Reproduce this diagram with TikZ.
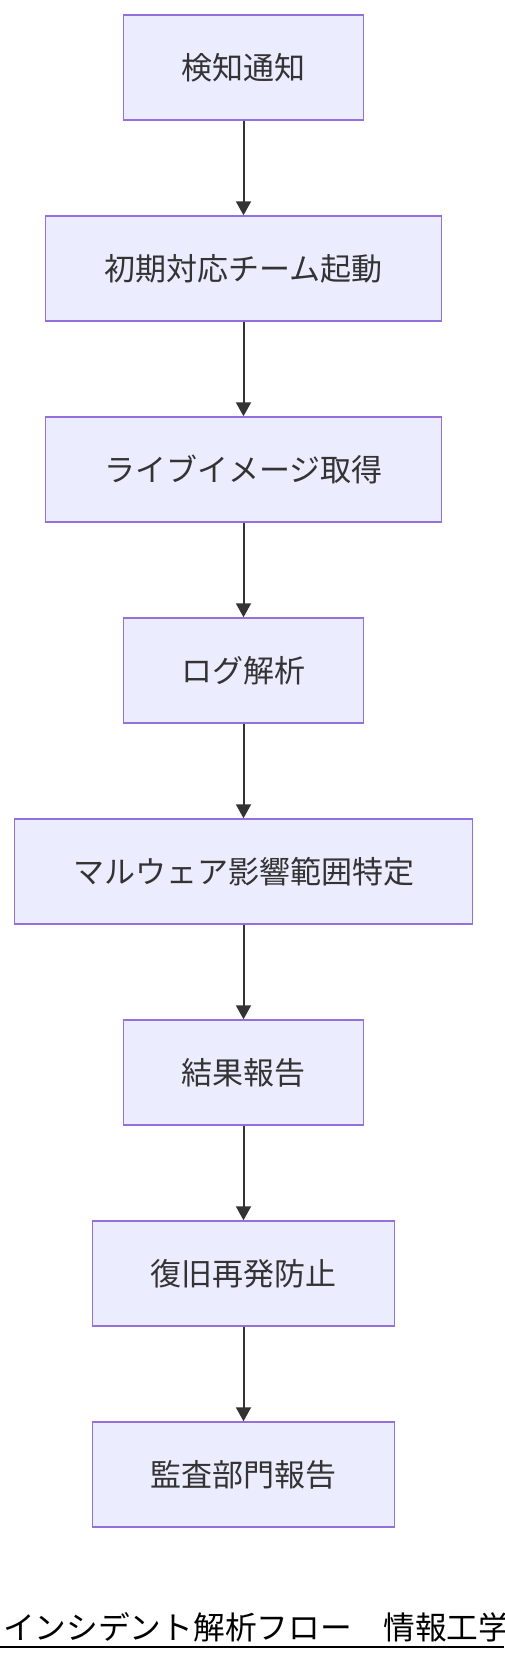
\documentclass[tikz,border=0pt]{standalone}
\usepackage{fontspec}
\setmainfont{Noto Sans CJK JP}
\usepackage{xcolor}
\usetikzlibrary{arrows.meta, positioning}
\definecolor{boxfill}{HTML}{ECECFF}
\definecolor{boxline}{HTML}{9370DB}
\definecolor{edgegray}{HTML}{333333}

\begin{document}
\begin{tikzpicture}[x=1pt, y=1pt, node distance=201pt]
    \tikzstyle{stepbox} = [rectangle, minimum height=105pt, text centered, draw=boxline, line width=1.5pt, fill=boxfill, text=edgegray, font=\fontsize{31pt}{37pt}\selectfont]
    \tikzstyle{arrow} = [line width=2pt, draw=edgegray, -{Triangle[length=14pt,width=15pt]}]
    \useasboundingbox (0,0) rectangle (504,-1660);

    \node (detect) [stepbox, minimum width=240pt] at (243.5,-67.5) {検知通知};
    \node (team) [stepbox, minimum width=396pt, below of=detect] {初期対応チーム起動};
    \node (image) [stepbox, minimum width=396pt, below of=team] {ライブイメージ取得};
    \node (logs) [stepbox, minimum width=240pt, below of=image] {ログ解析};
    \node (scope) [stepbox, minimum width=458pt, below of=logs] {マルウェア影響範囲特定};
    \node (result) [stepbox, minimum width=240pt, below of=scope] {結果報告};
    \node (recover) [stepbox, minimum width=302pt, below of=result] {復旧再発防止};
    \node (audit) [stepbox, minimum width=302pt, below of=recover] {監査部門報告};

    \draw [arrow] (detect) -- (team);
    \draw [arrow] (team) -- (image);
    \draw [arrow] (image) -- (logs);
    \draw [arrow] (logs) -- (scope);
    \draw [arrow] (scope) -- (result);
    \draw [arrow] (result) -- (recover);
    \draw [arrow] (recover) -- (audit);

    % caption
    \node (caption) [anchor=base west, inner sep=0pt, font=\fontsize{31.7pt}{38pt}\selectfont] at (3,-1639) {インシデント解析フロー　情報工学};
    \draw [line width=2pt] (0,-1647) -- (504,-1647);
\end{tikzpicture}
\end{document}
